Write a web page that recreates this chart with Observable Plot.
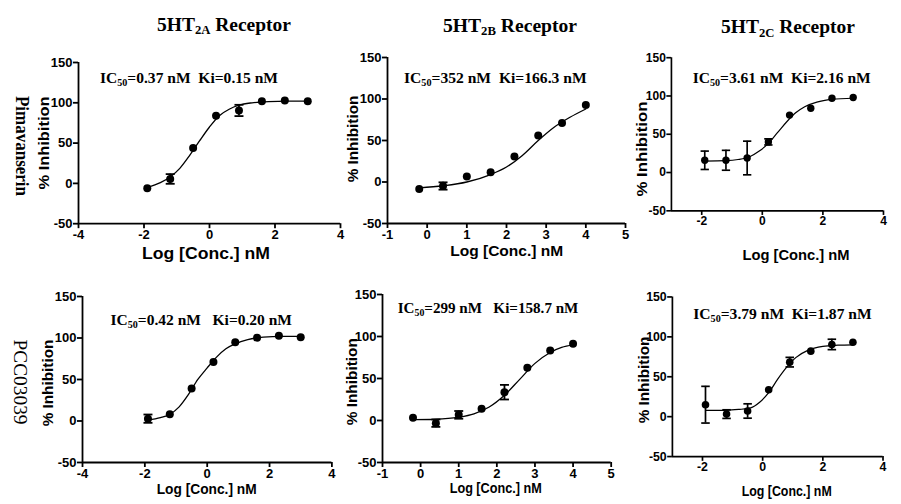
<!DOCTYPE html>
<html><head><meta charset="utf-8">
<script src="https://cdn.jsdelivr.net/npm/d3@7"></script>
<script src="https://cdn.jsdelivr.net/npm/@observablehq/plot@0.6"></script>
<style>
html,body{margin:0;padding:0;background:#fff;overflow:hidden;}
#wrap{position:relative;width:901px;height:504px;overflow:hidden;background:#fff;}
.panel{position:absolute;}
.panel svg{overflow:visible;}
.panel svg text{font-size:13px !important;font-weight:bold !important;font-family:'Liberation Sans',Arial,sans-serif !important;fill:#000;}
#overlay{position:absolute;left:0;top:0;pointer-events:none;}
</style></head><body><div id="wrap"></div>
<script>
// ---------- data ----------
const receptors = ["2A", "2B", "2C"];
const compounds = ["Pimavanserin", "PCC03039"];
const logConcA = [-1.9, -1.2, -0.5, 0.2, 0.9, 1.6, 2.3, 3.0];
const logConcB = [-0.2, 0.4, 1.0, 1.6, 2.2, 2.8, 3.4, 4.0];
const yTicks = [-50, 0, 50, 100, 150];
const yDomain = [-50, 150];
const xTicksA = [-4, -2, 0, 2, 4];
const xTicksB = [-1, 0, 1, 2, 3, 4, 5];
const xTicksC = [-2, 0, 2, 4];

// Pimavanserin 5HT2A
const pimaA = [-6, 5.5, 44, 84, 90.5, 102, 103, 102];
const pimaAErr = [0, 6, 0, 0, 7, 0, 0, 0];
const pimaAFitX = [-1.9, -1.5, -1.2, -0.9, -0.6, -0.3, 0, 0.3, 0.6, 0.9, 1.3, 1.8, 2.4, 3.0];
const pimaAFitY = [-5, 1, 8, 19, 35, 53, 70, 84, 92, 97, 100, 101.5, 102, 102];
// Pimavanserin 5HT2B
const pimaB = [-8.5, -4.8, 6.5, 11.7, 30.6, 56, 71, 92.7];
const pimaBErr = [0, 4.4, 0, 0, 0, 0, 0, 0];
const pimaBFitX = [-0.2, 0.4, 1.0, 1.6, 2.0, 2.4, 2.8, 3.2, 3.6, 4.0];
const pimaBFitY = [-7, -4.5, 0, 9, 18, 32, 50, 66, 78, 88];
// Pimavanserin 5HT2C
const pimaC = [16, 16, 19, 40, 75, 84, 97, 98];
const pimaCErr = [12, 13, 22, 4, 0, 0, 0, 0];
const pimaCFitX = [-1.9, -1.2, -0.8, -0.4, -0.1, 0.2, 0.5, 0.8, 1.1, 1.4, 1.8, 2.3, 3.0];
const pimaCFitY = [15, 15.5, 17, 21, 28, 38, 52, 66, 78, 86, 92, 95.5, 97];
// PCC03039 5HT2A
const pccA = [2.8, 8, 39, 71, 95, 100.4, 102.8, 100.8];
const pccAErr = [5, 0, 0, 0, 0, 0, 0, 0];
const pccAFitX = [-1.9, -1.5, -1.2, -0.9, -0.6, -0.3, 0, 0.3, 0.6, 0.9, 1.3, 1.8, 2.4, 3.0];
const pccAFitY = [1, 4, 8, 17, 32, 50, 64, 77, 87, 93, 98, 101, 102, 102];
// PCC03039 5HT2B
const pccB = [3.2, -3.2, 6.7, 13.9, 33.7, 62.7, 83.3, 91.3];
const pccBErr = [0, 4.4, 4.6, 0, 8.7, 0, 0, 0];
const pccBFitX = [-0.2, 0.4, 1.0, 1.4, 1.8, 2.2, 2.6, 3.0, 3.4, 3.7, 4.0];
const pccBFitY = [1, 1.5, 4, 8, 16, 30, 49, 68, 81, 87, 90];
// PCC03039 5HT2C
const pccC = [15, 3.2, 7.1, 33.7, 68.3, 82.1, 90.5, 93.3];
const pccCErr = [23, 5.4, 9, 0, 6, 0, 6.5, 0];
const pccCFitX = [-1.9, -1.2, -0.8, -0.4, -0.1, 0.2, 0.5, 0.8, 1.1, 1.5, 2.0, 2.5, 3.0];
const pccCFitY = [8, 8, 9, 11, 18, 30, 47, 62, 74, 83, 88, 89.5, 90];

// annotation texts
const ic50Texts = ["=0.37 nM  Ki=0.15 nM", "=352 nM  Ki=166.3 nM", "=3.61 nM  Ki=2.16 nM",
                   "=0.42 nM   Ki=0.20 nM", "=299 nM   Ki=158.7 nM", "=3.79 nM  Ki=1.87 nM"];
const xLabel = "Log [Conc.] nM";
const yLabel = "% Inhibition";

// ---------- layout ----------
const ML = 40, MR = 20, MT = 10, MB = 30;
const panels = [
  {x: logConcA, y: pimaA, err: pimaAErr, fx: pimaAFitX, fy: pimaAFitY, xd: [-4, 4], ticks: xTicksA,
   x0: 78, x1: 340, yT: 61.5, yB: 222.7},
  {x: logConcB, y: pimaB, err: pimaBErr, fx: pimaBFitX, fy: pimaBFitY, xd: [-1, 5], ticks: xTicksB,
   x0: 386.7, x1: 624.7, yT: 57.3, yB: 223.3},
  {x: logConcA, y: pimaC, err: pimaCErr, fx: pimaCFitX, fy: pimaCFitY, xd: [-3, 4], ticks: xTicksC,
   x0: 673.5, x1: 903, yT: 58.3, yB: 224},
  {x: logConcA, y: pccA, err: pccAErr, fx: pccAFitX, fy: pccAFitY, xd: [-4, 4], ticks: xTicksA,
   x0: 82.3, x1: 331.7, yT: 295.7, yB: 461.7},
  {x: logConcB, y: pccB, err: pccBErr, fx: pccBFitX, fy: pccBFitY, xd: [-1, 5], ticks: xTicksB,
   x0: 382.3, x1: 611, yT: 294, yB: 462},
  {x: logConcA, y: pccC, err: pccCErr, fx: pccCFitX, fy: pccCFitY, xd: [-3, 4], ticks: xTicksC,
   x0: 673.5, x1: 895.7, yT: 297.3, yB: 465.7}
];

const capSymbol = {draw(ctx) { ctx.moveTo(-4.5, 0); ctx.lineTo(4.5, 0); }};
const wrap = document.getElementById("wrap");

panels.forEach(p => {
  const pts = p.x.map((x, i) => ({x, y: p.y[i], e: p.err[i]}));
  const errPts = pts.filter(d => d.e > 0);
  const fit = p.fx.map((x, i) => ({x, y: p.fy[i]}));
  const W = p.x1 - p.x0 + ML + MR, H = p.yB - p.yT + MT + MB;
  const chart = Plot.plot({
    width: W, height: H, marginLeft: ML, marginRight: MR, marginTop: MT, marginBottom: MB,
    style: {fontFamily: "'Liberation Sans', Arial, sans-serif", fontSize: "13px", fontWeight: "bold", color: "#000", background: "transparent", overflow: "visible"},
    x: {domain: p.xd},
    y: {domain: yDomain},
    marks: [
      Plot.ruleX([p.xd[0]], {y1: yDomain[0], y2: yDomain[1], stroke: "#000", strokeWidth: 1.8}),
      Plot.ruleY([yDomain[0]], {x1: p.xd[0], x2: p.xd[1], stroke: "#000", strokeWidth: 1.8}),
      Plot.axisX({ticks: p.ticks, tickSize: 5, tickPadding: 1, tickFormat: d => String(d), label: null, strokeWidth: 1.8, fontSize: 13, fontWeight: "bold"}),
      Plot.axisY({ticks: yTicks, tickSize: 5, tickPadding: 1, tickFormat: d => String(d), label: null, strokeWidth: 1.8, fontSize: 13, fontWeight: "bold"}),
      Plot.line(fit, {x: "x", y: "y", curve: "monotone-x", stroke: "#000", strokeWidth: 1.3}),
      Plot.ruleX(errPts, {x: "x", y1: d => d.y - d.e, y2: d => d.y + d.e, stroke: "#000", strokeWidth: 1.8}),
      Plot.dot(errPts, {x: "x", y: d => d.y - d.e, symbol: capSymbol, r: 4, fill: "none", stroke: "#000", strokeWidth: 1.8}),
      Plot.dot(errPts, {x: "x", y: d => d.y + d.e, symbol: capSymbol, r: 4, fill: "none", stroke: "#000", strokeWidth: 1.8}),
      Plot.dot(pts, {x: "x", y: "y", r: 4, fill: "#000", stroke: "none"})
    ]
  });
  const div = document.createElement("div");
  div.className = "panel";
  div.style.left = (p.x0 - ML) + "px";
  div.style.top = (p.yT - MT) + "px";
  div.appendChild(chart);
  wrap.appendChild(div);
});

// ---------- text overlay ----------
const svg = d3.select(wrap).append("svg").attr("id", "overlay").attr("width", 901).attr("height", 504);
const serif = "'Liberation Serif', 'Times New Roman', serif";
const sans = "'Liberation Sans', Arial, sans-serif";

function subText(x, y, pre, sub, post, size, len, anchor) {
  const t = svg.append("text").attr("x", x).attr("y", y).attr("text-anchor", anchor)
    .attr("font-family", serif).attr("font-weight", "bold").attr("font-size", size)
    .attr("fill", "#000").style("white-space", "pre")
    .attr("textLength", len).attr("lengthAdjust", "spacingAndGlyphs");
  t.append("tspan").text(pre);
  t.append("tspan").attr("font-size", size * 0.65).attr("dy", size * 0.2).text(sub);
  t.append("tspan").attr("dy", -size * 0.2).text(post);
}

// titles
const titlePos = [[224, 30.5], [510, 31.5], [788, 33]];
receptors.forEach((r, i) => subText(titlePos[i][0], titlePos[i][1], "5HT", r, " Receptor", 18, 134, "middle"));

// IC50 annotations
const annPos = [[100, 83, 178], [404, 83, 182.7], [692.7, 83, 178], [110.5, 325, 181.5], [397.7, 313, 180.7], [693.3, 319, 178.4]];
ic50Texts.forEach((s, i) => subText(annPos[i][0], annPos[i][1], "IC", "50", s, 15, annPos[i][2], "start"));

// y labels
const yLabPos = [[43, 143, 93], [352, 139, 86.7], [641.7, 149, 95], [47.5, 383, 86.7], [351, 381.7, 87], [643.5, 380, 86.7]];
yLabPos.forEach(([x, y, len]) => {
  svg.append("text").attr("transform", `translate(${x},${y}) rotate(-90)`)
    .attr("text-anchor", "middle").attr("dominant-baseline", "central")
    .attr("font-family", sans).attr("font-weight", "bold").attr("font-size", 15)
    .attr("textLength", len).attr("lengthAdjust", "spacingAndGlyphs").attr("fill", "#000").text(yLabel);
});

// x labels
const xLabPos = [[206, 258.5, 128, 16], [506.7, 255.5, 113, 15], [796, 260, 107, 15], [206.7, 494, 100, 14], [495.7, 493, 92, 14], [786.7, 496, 90, 14]];
xLabPos.forEach(([x, y, len, fs]) => {
  svg.append("text").attr("x", x).attr("y", y).attr("text-anchor", "middle")
    .attr("font-family", sans).attr("font-weight", "bold").attr("font-size", fs)
    .attr("textLength", len).attr("lengthAdjust", "spacingAndGlyphs").attr("fill", "#000").text(xLabel);
});

// row labels
const rowPos = [[22, 146, 100, "bold"], [20, 382, 85, "normal"]];
compounds.forEach((c, i) => {
  const [x, y, len, fw] = rowPos[i];
  svg.append("text").attr("transform", `translate(${x},${y}) rotate(90)`)
    .attr("text-anchor", "middle").attr("dominant-baseline", "central")
    .attr("font-family", serif).attr("font-weight", fw).attr("font-size", 18)
    .attr("textLength", len).attr("lengthAdjust", "spacingAndGlyphs").attr("fill", "#000").text(c);
});
</script></body></html>
